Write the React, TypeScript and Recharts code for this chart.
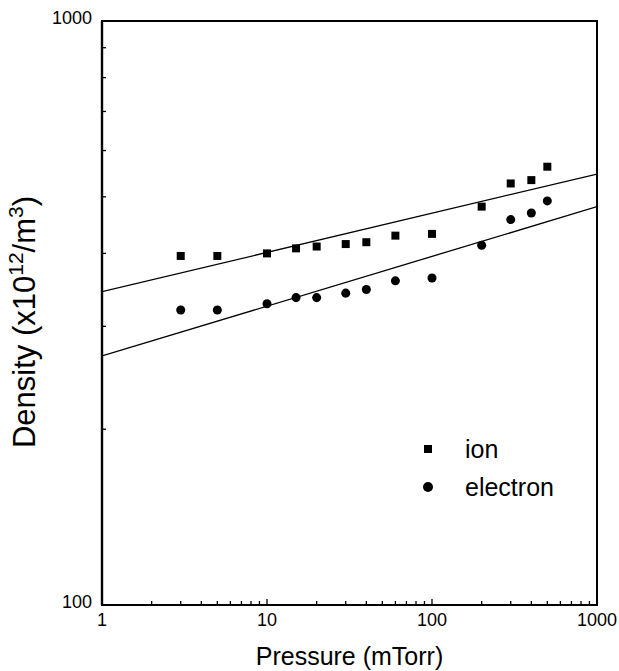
import { ScatterChart, Scatter, XAxis, YAxis, ZAxis, ReferenceArea, Legend } from "recharts";

const pressure = [3, 5, 10, 15, 20, 30, 40, 60, 100, 200, 300, 400, 500];
const ionDensity = [396, 396, 400, 408, 411, 415, 418, 429, 432, 481, 527, 534, 563];
const electronDensity = [320, 320, 328, 336, 336, 342, 347, 359, 363, 413, 457, 469, 492];

// fitted lines, end points at the axis limits
const fitPressure = [1, 1000];
const ionFit = [344, 547];
const electronFit = [267, 481];

const xTicks = [1, 2, 3, 4, 5, 6, 7, 8, 9, 10, 20, 30, 40, 50, 60, 70, 80, 90, 100, 200, 300, 400, 500, 600, 700, 800, 900, 1000];
const yTicks = [100, 200, 300, 400, 500, 600, 700, 800, 900, 1000];
const xLabels = [1, 10, 100, 1000];
const yLabels = [100, 1000];

const font = "'Liberation Sans', Arial, sans-serif";

const ionData = pressure.map((p, i) => ({ x: p, y: ionDensity[i] }));
const electronData = pressure.map((p, i) => ({ x: p, y: electronDensity[i] }));
const ionFitData = fitPressure.map((p, i) => ({ x: p, y: ionFit[i] }));
const electronFitData = fitPressure.map((p, i) => ({ x: p, y: electronFit[i] }));

const XTick = (props: any) => {
  const { x, y, payload } = props;
  const major = xLabels.includes(payload.value);
  return (
    <g>
      <line x1={x} x2={x} y1={y} y2={y - (major ? 6 : 4)} stroke="#000" strokeWidth={1.3} />
      {major && (
        <text x={x} y={y + 21} textAnchor="middle" fontSize={18} fontFamily={font} fill="#000">
          {payload.value}
        </text>
      )}
    </g>
  );
};

const YTick = (props: any) => {
  const { x, y, payload } = props;
  const major = yLabels.includes(payload.value);
  return (
    <g>
      <line x1={x} x2={x + 4} y1={y} y2={y} stroke="#000" strokeWidth={1.3} />
      {major && (
        <text x={x - 10} y={y + 3} textAnchor="end" fontSize={18} fontFamily={font} fill="#000">
          {payload.value}
        </text>
      )}
    </g>
  );
};

const LegendBox = () => (
  <div style={{ fontFamily: font, fontSize: 25, lineHeight: "38px", color: "#000" }}>
    <div style={{ display: "flex", alignItems: "center" }}>
      <span style={{ width: 8, height: 8, background: "#000", marginLeft: 4, marginRight: 33 }} />
      <span>ion</span>
    </div>
    <div style={{ display: "flex", alignItems: "center" }}>
      <span style={{ width: 10, height: 10, borderRadius: 5, background: "#000", marginLeft: 3, marginRight: 32 }} />
      <span>electron</span>
    </div>
  </div>
);

export default function App() {
  return (
    <div style={{ position: "absolute", left: 0, top: 0, background: "#fff" }}>
      <ScatterChart width={619} height={671} margin={{ top: 21, right: 22, left: 0, bottom: 0 }}>
        <XAxis
          dataKey="x"
          type="number"
          scale="log"
          domain={[1, 1000]}
          ticks={xTicks}
          interval={0}
          allowDataOverflow
          height={66}
          tickSize={0}
          tickMargin={0}
          tick={<XTick />}
          axisLine={{ stroke: "#000", strokeWidth: 2 }}
          label={{
            content: (p: any) => (
              <text x={p.viewBox.x + p.viewBox.width / 2} y={p.viewBox.y + 60} textAnchor="middle" fontSize={25} fontFamily={font} fill="#000">
                Pressure (mTorr)
              </text>
            ),
          }}
        />
        <YAxis
          dataKey="y"
          type="number"
          scale="log"
          domain={[100, 1000]}
          ticks={yTicks}
          interval={0}
          allowDataOverflow
          width={102}
          tickSize={0}
          tickMargin={0}
          tick={<YTick />}
          axisLine={{ stroke: "#000", strokeWidth: 2.4 }}
          label={{
            content: (p: any) => {
              const cy = p.viewBox.y + p.viewBox.height / 2 + 9;
              return (
                <text x={35} y={cy} transform={`rotate(-90, 35, ${cy})`} textAnchor="middle" fontSize={31} fontFamily={font} fill="#000">
                  Density (x10
                  <tspan fontSize={21} dy={-12}>12</tspan>
                  <tspan dy={12}>/m</tspan>
                  <tspan fontSize={21} dy={-12}>3</tspan>
                  <tspan dy={12}>)</tspan>
                </text>
              );
            },
          }}
        />
        <ZAxis range={[80, 80]} />
        <ReferenceArea x1={1} x2={1000} y1={100} y2={1000} fill="none" stroke="#000" strokeWidth={2} />
        <Scatter data={ionFitData} line={{ stroke: "#000", strokeWidth: 1.3 }} shape={() => <g />} isAnimationActive={false} />
        <Scatter data={electronFitData} line={{ stroke: "#000", strokeWidth: 1.3 }} shape={() => <g />} isAnimationActive={false} />
        <Scatter name="ion" data={ionData} shape="square" fill="#000" isAnimationActive={false} />
        <Scatter name="electron" data={electronData} shape="circle" fill="#000" isAnimationActive={false} />
        <Legend
          content={<LegendBox />}
          layout="horizontal"
          verticalAlign="middle"
          align="center"
          wrapperStyle={{ left: 420, top: 430, width: 200 }}
        />
      </ScatterChart>
    </div>
  );
}
